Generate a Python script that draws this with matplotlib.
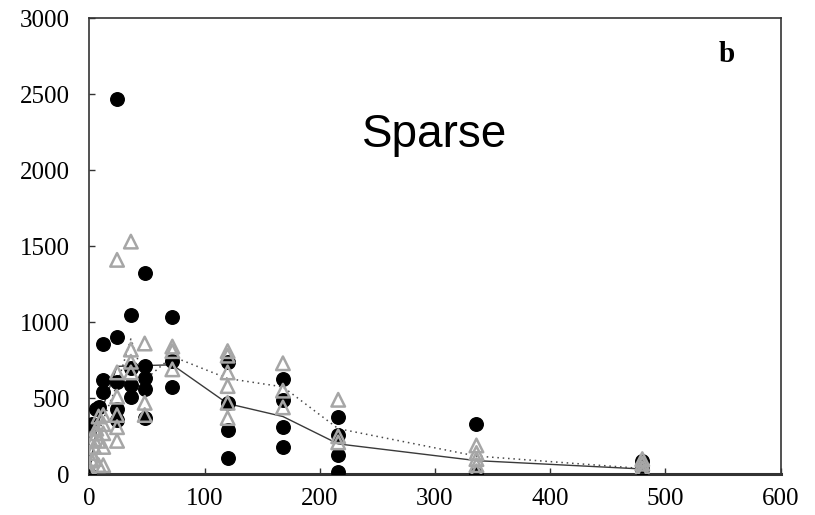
import matplotlib
matplotlib.use("Agg")
import matplotlib.pyplot as plt

# ---- data ----
circle_t = [0, 2, 6, 8,
            12, 12, 12,
            24, 24, 24, 24, 24,
            36, 36, 36, 36,
            48, 48, 48, 48, 48,
            72, 72, 72,
            120, 120, 120, 120,
            168, 168, 168, 168,
            216, 216, 216, 216,
            336, 336,
            480, 480]
circle_v = [0, 330, 430, 440,
            855, 620, 540,
            2470, 900, 605, 430, 360,
            1045, 700, 585, 510,
            1325, 715, 630, 560, 370,
            1035, 745, 575,
            740, 466, 290, 110,
            625, 488, 313, 181,
            379, 258, 127, 17,
            330, 0,
            90, 35]

tri_t = [0, 0, 2, 2, 4, 4, 4, 6, 6, 8, 8, 8,
         12, 12, 12, 12, 12,
         24, 24, 24, 24, 24, 24,
         36, 36, 36, 36,
         48, 48, 48,
         72, 72, 72,
         120, 120, 120, 120, 120, 120,
         168, 168, 168,
         216, 216, 216,
         336, 336, 336, 336, 336,
         480, 480, 480, 480]
tri_v = [10, 40, 90, 140, 180, 230, 100, 270, 300, 220, 380, 60,
         390, 270, 180, 60, 330,
         1410, 670, 510, 390, 310, 220,
         1530, 820, 740, 670,
         860, 470, 390,
         840, 810, 690,
         810, 780, 670, 580, 470, 370,
         730, 550, 440,
         490, 250, 210,
         190, 140, 100, 60, 20,
         100, 70, 40, 10]

line_t = [0, 2, 4, 6, 8, 12, 24, 36, 48, 72, 120, 168, 216, 336, 480]
solid_v = [10, 120, 200, 280, 340, 450, 710, 712, 715, 720, 465, 380, 200, 90, 35]
dotted_v = [10, 100, 170, 240, 280, 360, 590, 890, 620, 775, 630, 575, 300, 120, 38]

xticks = [0, 100, 200, 300, 400, 500, 600]
yticks = [0, 500, 1000, 1500, 2000, 2500, 3000]

# ---- figure ----
fig = plt.figure(figsize=(8.15, 5.15), dpi=100)
ax = fig.add_axes([0.1097, 0.079, 0.848, 0.886])

ax.plot(line_t, solid_v, color="#3a3a3a", lw=1.0, zorder=2)
ax.plot(line_t, dotted_v, color="#4a4a4a", lw=1.1, ls=(0, (1, 2.5)), zorder=2)
ax.scatter(circle_t, circle_v, s=95, color="black", zorder=3)
ax.scatter(tri_t, tri_v, s=95, marker="^", facecolors="none",
           edgecolors="#a6a6a6", linewidths=1.8, zorder=4)

ax.set_xlim(0, 600)
ax.set_ylim(0, 3000)
ax.set_xticks(xticks)
ax.set_yticks(yticks)
ax.set_xticklabels([str(v) for v in xticks])
ax.set_yticklabels([str(v) for v in yticks])

serif = ["Liberation Serif", "DejaVu Serif"]
for lab in ax.get_xticklabels() + ax.get_yticklabels():
    lab.set_fontfamily(serif)
    lab.set_fontsize(18)
ax.tick_params(axis="both", direction="in", length=4, width=1.0, color="#333333")
ax.tick_params(axis="x", pad=10)
ax.tick_params(axis="y", pad=14)

for name, sp in ax.spines.items():
    sp.set_color("#333333")
    sp.set_linewidth(1.2)
ax.spines["bottom"].set_linewidth(2.2)

ax.text(300, 2150, "Sparse", ha="center", va="baseline",
        fontsize=33, family=["Liberation Sans", "DejaVu Sans"])
ax.text(553, 2710, "b", ha="center", va="baseline", fontsize=21,
        fontweight="bold", family=serif)

fig.savefig("out.png", dpi=100)
